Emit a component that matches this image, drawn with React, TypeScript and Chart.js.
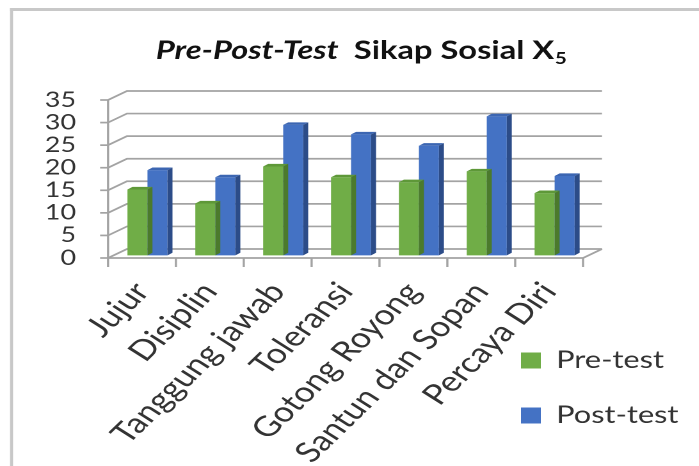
import React, { useEffect, useRef } from "react";
import { Chart, registerables } from "chart.js";

Chart.register(...registerables);

// ---- data ----
const categories = [
  "Jujur",
  "Disiplin",
  "Tanggung jawab",
  "Toleransi",
  "Gotong Royong",
  "Santun dan Sopan",
  "Percaya Diri",
];
const preTest = [14.6, 11.5, 19.7, 17.3, 16.2, 18.6, 13.8];
const postTest = [18.9, 17.3, 28.9, 26.8, 24.3, 30.8, 17.6];
const seriesNames = ["Pre-test", "Post-test"];
const yTickValues = [0, 5, 10, 15, 20, 25, 30, 35];
const titleItalic = "Pre-Post-Test";
const titleRest = "Sikap Sosial X";
const titleSub = "5";

// ---- layout / style ----
const K = 1.28; // horizontal stretch of the picture
const W = 546;
const H = 466;
const LEFT = 84.4;
const RIGHT = 455.5;
const TOP = 100;
const BOTTOM = 258;
const DX = 14.8;
const DY = -9;
const BAR_DX = 4.3;
const BAR_DY = -2.6;
const FDX = 3.9;
const FDY = -2.6;
const FONT = "Lato, 'Open Sans', sans-serif";
const TEXT = "#333333";
const GRID = "#a3a3a3";

const colors = [
  { front: "#70AD47", top: "#5E9838", side: "#4B7A2C" },
  { front: "#4472C4", top: "#3C66B2", side: "#2C4C88" },
];

const threeD = {
  id: "threeD",
  beforeDraw(chart: any) {
    const ctx = chart.ctx;
    const ys = chart.scales.y;
    const xs = chart.scales.x;
    const L = chart.chartArea.left;
    const R = chart.chartArea.right;
    const B = chart.chartArea.bottom;
    ctx.save();
    // outer frame (top + left visible)
    ctx.fillStyle = "#c8c8c8";
    ctx.fillRect(7.8, 8, W, 3);
    ctx.fillRect(7.8, 8, 2.4, H);

    ctx.strokeStyle = GRID;
    ctx.lineWidth = 1.7;
    ctx.lineCap = "butt";
    yTickValues.forEach((v) => {
      const yF = ys.getPixelForValue(v);
      ctx.beginPath();
      ctx.moveTo(L, yF);
      ctx.lineTo(L + DX, yF + DY);
      ctx.lineTo(R + DX, yF + DY);
      ctx.stroke();
      ctx.beginPath();
      ctx.moveTo(L - 6.2, yF);
      ctx.lineTo(L, yF);
      ctx.stroke();
    });
    ctx.beginPath();
    ctx.moveTo(L, ys.getPixelForValue(yTickValues[yTickValues.length - 1]));
    ctx.lineTo(L, B);
    ctx.stroke();
    ctx.beginPath();
    ctx.moveTo(L, B);
    ctx.lineTo(R, B);
    ctx.lineTo(R + DX, B + DY);
    ctx.stroke();
    const n = categories.length;
    const step = xs.getPixelForTick(1) - xs.getPixelForTick(0);
    for (let i = 0; i <= n; i++) {
      const x = i < n ? xs.getPixelForTick(i) - step / 2 : xs.getPixelForTick(n - 1) + step / 2;
      ctx.beginPath();
      ctx.moveTo(x, B);
      ctx.lineTo(x, B + 9);
      ctx.stroke();
    }
    ctx.restore();
  },
  beforeDatasetsDraw(chart: any) {
    chart.ctx.save();
    chart.ctx.translate(BAR_DX, BAR_DY);
  },
  afterDatasetDraw(chart: any, args: any) {
    const ctx = chart.ctx;
    const c = colors[args.index];
    args.meta.data.forEach((el: any) => {
      const { x, y, base, width } = el.getProps(["x", "y", "base", "width"], true);
      const x1 = x - width / 2;
      const x2 = x + width / 2;
      ctx.fillStyle = c.top;
      ctx.beginPath();
      ctx.moveTo(x1, y);
      ctx.lineTo(x2, y);
      ctx.lineTo(x2 + FDX, y + FDY);
      ctx.lineTo(x1 + FDX, y + FDY);
      ctx.closePath();
      ctx.fill();
      ctx.fillStyle = c.side;
      ctx.beginPath();
      ctx.moveTo(x2, y);
      ctx.lineTo(x2 + FDX, y + FDY);
      ctx.lineTo(x2 + FDX, base + FDY);
      ctx.lineTo(x2, base);
      ctx.closePath();
      ctx.fill();
    });
  },
  afterDatasetsDraw(chart: any) {
    chart.ctx.restore();
  },
  afterLayout(chart: any) {
    const leg = chart.legend;
    if (!leg) return;
    const pad = 31;
    leg.left = 407 - pad;
    leg.right = W;
    leg.top = 300;
    leg.bottom = 458.5;
    leg.width = leg.right - leg.left;
    leg.height = leg.bottom - leg.top;
  },
  afterDraw(chart: any) {
    const ctx = chart.ctx;
    ctx.save();
    ctx.fillStyle = "#111";
    ctx.textBaseline = "alphabetic";
    const f1 = `italic bold 25.5px ${FONT}`;
    const f2 = `bold 25.5px ${FONT}`;
    const f3 = `bold 16px ${FONT}`;
    ctx.font = f1;
    const w1 = ctx.measureText(titleItalic).width;
    ctx.font = f2;
    const w2 = ctx.measureText(titleRest).width;
    ctx.font = f3;
    const w3 = ctx.measureText(titleSub).width;
    const gap = 12;
    const total = w1 + gap + w2 + w3;
    let x = 282 - total / 2;
    const yb = 59;
    ctx.font = f1;
    ctx.fillText(titleItalic, x, yb);
    x += w1 + gap;
    ctx.font = f2;
    ctx.fillText(titleRest, x, yb);
    x += w2 + 0.5;
    ctx.font = f3;
    ctx.fillText(titleSub, x, yb + 5);
    ctx.restore();
  },
};

export default function App() {
  const ref = useRef<HTMLCanvasElement | null>(null);
  useEffect(() => {
    if (!ref.current) return;
    const chart = new Chart(ref.current, {
      type: "bar",
      data: {
        labels: categories,
        datasets: [
          {
            label: seriesNames[0],
            data: preTest,
            backgroundColor: colors[0].front,
            borderWidth: 0,
            categoryPercentage: 0.59,
            barPercentage: 1,
            clip: false as any,
          },
          {
            label: seriesNames[1],
            data: postTest,
            backgroundColor: colors[1].front,
            borderWidth: 0,
            categoryPercentage: 0.59,
            barPercentage: 1,
            clip: false as any,
          },
        ],
      },
      options: {
        responsive: false,
        animation: false,
        devicePixelRatio: 2,
        layout: {
          padding: { left: LEFT - 70, right: W - RIGHT, top: TOP, bottom: 0 },
        },
        plugins: {
          title: { display: false },
          tooltip: { enabled: false },
          legend: {
            position: "chartArea" as any,
            align: "end",
            labels: {
              boxWidth: 15.5,
              boxHeight: 16,
              padding: 31,
              color: TEXT,
              font: { family: FONT, size: 24 },
            },
          },
        },
        scales: {
          x: {
            grid: { display: false },
            border: { display: false },
            ticks: {
              autoSkip: false,
              maxRotation: 51,
              minRotation: 51,
              padding: 10,
              color: TEXT,
              font: { family: FONT, size: 28 },
            },
            afterFit: (s: any) => {
              s.height = H - BOTTOM;
            },
          },
          y: {
            min: 0,
            max: 35,
            grid: { display: false },
            border: { display: false },
            ticks: {
              stepSize: 5,
              autoSkip: false,
              padding: 17,
              color: TEXT,
              font: { family: FONT, size: 21, lineHeight: 1 },
            },
            afterFit: (s: any) => {
              s.width = 70;
            },
          },
        },
      },
      plugins: [threeD],
    });
    return () => chart.destroy();
  }, []);

  return (
    <div
      style={{
        position: "absolute",
        left: 0,
        top: 0,
        width: 699,
        height: 466,
        overflow: "hidden",
        background: "#fff",
      }}
    >
      <div style={{ width: W, height: H, transform: `scaleX(${K})`, transformOrigin: "0 0" }}>
        <canvas ref={ref} width={W} height={H} style={{ display: "block" }} />
      </div>
    </div>
  );
}
